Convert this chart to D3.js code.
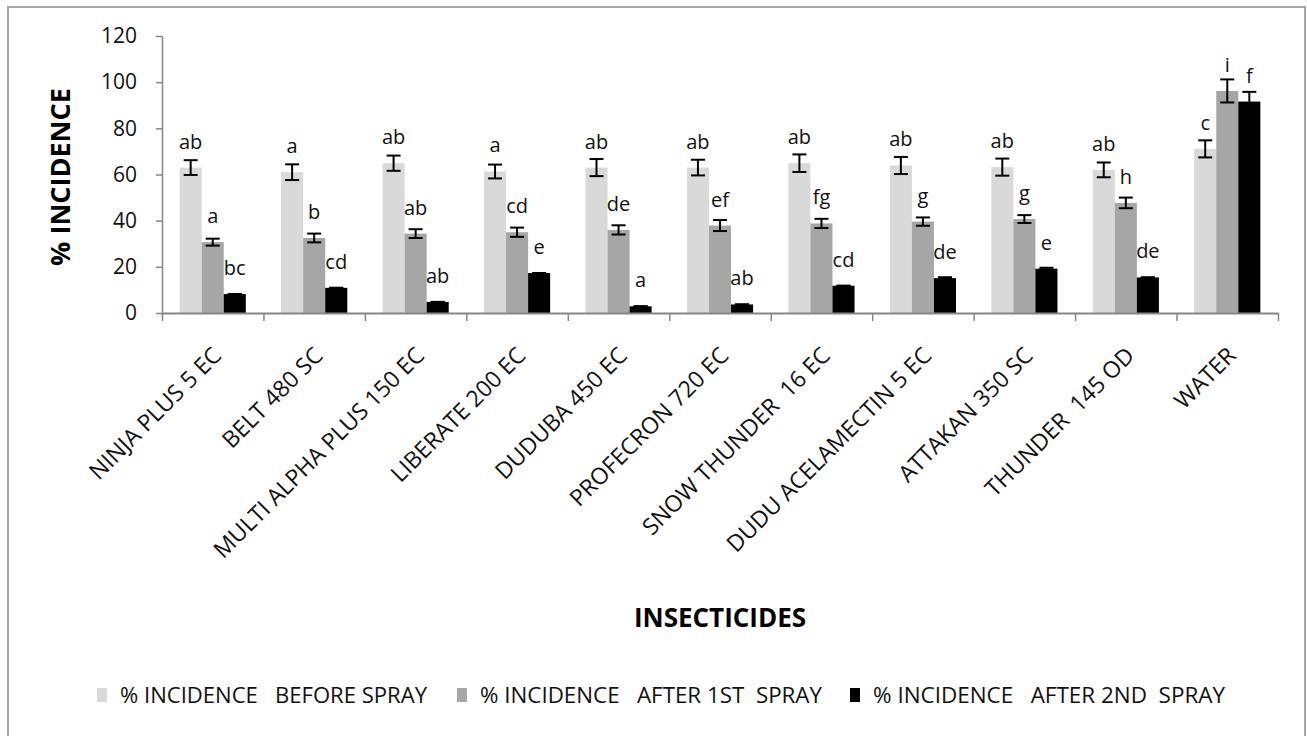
<!DOCTYPE html>
<html>
<head>
<meta charset="utf-8">
<script src="https://cdn.jsdelivr.net/npm/d3@7"></script>
<style>
  body { margin: 0; background: #fff; }
  svg text { font-family: "Open Sans", sans-serif; white-space: pre; }
</style>
</head>
<body>
<div id="chart"></div>
<script>
// data
var categories = ["NINJA PLUS 5 EC", "BELT 480 SC", "MULTI ALPHA PLUS 150 EC", "LIBERATE 200 EC",
  "DUDUBA 450 EC", "PROFECRON 720 EC", "SNOW THUNDER  16 EC", "DUDU ACELAMECTIN 5 EC",
  "ATTAKAN 350 SC", "THUNDER  145 OD", "WATER"];
var seriesNames = ["% INCIDENCE   BEFORE SPRAY", "% INCIDENCE   AFTER 1ST  SPRAY", "% INCIDENCE   AFTER 2ND  SPRAY"];

var beforeSpray = [63.0, 61.0, 64.9, 61.3, 63.0, 63.0, 64.9, 63.9, 63.2, 62.0, 71.1];
var beforeErr   = [3.2, 3.4, 3.3, 3.0, 3.7, 3.4, 3.8, 3.7, 3.7, 3.2, 3.7];
var after1st    = [30.7, 32.5, 34.4, 35.0, 36.0, 37.9, 38.8, 39.6, 40.7, 47.7, 96.2];
var after1Err   = [1.5, 1.9, 1.9, 2.0, 2.0, 2.4, 2.0, 1.8, 1.7, 2.3, 5.0];
var after2nd    = [8.2, 10.9, 4.8, 17.3, 2.9, 3.7, 11.8, 15.1, 19.2, 15.4, 91.6];
var after2Err   = [0, 0, 0, 0, 0, 0, 0, 0.4, 0.4, 0, 4.2];

var beforeLetters = ["ab", "a", "ab", "a", "ab", "ab", "ab", "ab", "ab", "ab", "c"];
var after1Letters = ["a", "b", "ab", "cd", "de", "ef", "fg", "g", "g", "h", "i"];
var after2Letters = ["bc", "cd", "ab", "e", "a", "ab", "cd", "de", "e", "de", "f"];

var yTicks = [0, 20, 40, 60, 80, 100, 120];

var colors = ["#d9d9d9", "#a6a6a6", "#000000"];
var axisColor = "#868686";

//chart parameters
var W = 1307, H = 736;
var margin = {top: 36, left: 162, right: 29, bottom: 423};
var width = W - margin.left - margin.right;
var height = H - margin.top - margin.bottom;

var svg = d3.select("#chart").append("svg")
  .attr("width", W)
  .attr("height", H);

// outer chart frame
svg.append("rect")
  .attr("x", 8).attr("y", 7)
  .attr("width", 1297).attr("height", 740)
  .attr("fill", "none")
  .attr("stroke", "#a6a6a6")
  .attr("stroke-width", 2);

var g = svg.append("g").attr("transform", "translate(" + margin.left + "," + margin.top + ")");

// build rows from the arrays
var series = [
  {name: seriesNames[0], values: beforeSpray, err: beforeErr, letters: beforeLetters},
  {name: seriesNames[1], values: after1st, err: after1Err, letters: after1Letters},
  {name: seriesNames[2], values: after2nd, err: after2Err, letters: after2Letters}
];
var rows = categories.map(function(c, i) {
  return {
    cat: c,
    groups: series.map(function(s, k) {
      return {k: k, value: s.values[i], err: s.err[i], letter: s.letters[i]};
    })
  };
});

//scales
var x0 = d3.scaleBand()
  .domain(categories)
  .range([0, width])
  .padding(0);

var x1 = d3.scaleBand()
  .domain([0, 1, 2])
  .range([0, x0.bandwidth()])
  .paddingInner(0)
  .paddingOuter(0.8);

var y = d3.scaleLinear()
  .domain([0, 120])
  .range([height, 0]);

// y axis
var yAxis = g.append("g")
  .call(d3.axisLeft(y).tickValues(yTicks).tickSize(6).tickSizeOuter(0).tickPadding(19));
yAxis.select(".domain").attr("stroke", axisColor).attr("stroke-width", 1.5);
yAxis.selectAll(".tick line").attr("stroke", axisColor).attr("stroke-width", 1.5);
yAxis.selectAll(".tick text")
  .attr("font-size", 21)
  .attr("fill", "#111")
  .attr("font-family", "Open Sans, sans-serif");

// bars
var grp = g.selectAll(".grp")
  .data(rows)
  .enter().append("g")
  .attr("transform", function(d) { return "translate(" + x0(d.cat) + ",0)"; });

grp.selectAll("rect")
  .data(function(d) { return d.groups; })
  .enter().append("rect")
  .attr("x", function(d) { return x1(d.k); })
  .attr("width", x1.bandwidth())
  .attr("y", function(d) { return y(d.value); })
  .attr("height", function(d) { return height - y(d.value); })
  .attr("fill", function(d) { return colors[d.k]; });

// error bars
var eb = grp.selectAll(".eb")
  .data(function(d) { return d.groups; })
  .enter().append("g")
  .attr("class", "eb")
  .attr("stroke", "#000")
  .attr("stroke-width", 2);
var cx = function(d) { return x1(d.k) + x1.bandwidth() / 2; };
eb.append("line")
  .attr("x1", cx).attr("x2", cx)
  .attr("y1", function(d) { return y(d.value - d.err); })
  .attr("y2", function(d) { return y(d.value + d.err); });
eb.append("line")
  .attr("x1", function(d) { return cx(d) - 7; })
  .attr("x2", function(d) { return cx(d) + 7; })
  .attr("y1", function(d) { return y(d.value + d.err); })
  .attr("y2", function(d) { return y(d.value + d.err); });
eb.append("line")
  .attr("x1", function(d) { return cx(d) - 7; })
  .attr("x2", function(d) { return cx(d) + 7; })
  .attr("y1", function(d) { return y(d.value - d.err); })
  .attr("y2", function(d) { return y(d.value - d.err); });

// letter labels
grp.selectAll(".lbl")
  .data(function(d) { return d.groups; })
  .enter().append("text")
  .attr("x", cx)
  .attr("y", function(d) { return y(d.value) - 19; })
  .attr("text-anchor", "middle")
  .attr("font-size", 20)
  .attr("fill", "#111")
  .text(function(d) { return d.letter; });

// x axis with ticks at category boundaries
var xb = d3.scaleLinear().domain([0, categories.length]).range([0, width]);
var xAxis = g.append("g")
  .attr("transform", "translate(0," + height + ")")
  .call(d3.axisBottom(xb).tickValues(d3.range(categories.length + 1)).tickSize(8).tickSizeOuter(0).tickFormat(""));
xAxis.select(".domain").attr("stroke", axisColor).attr("stroke-width", 2);
xAxis.selectAll(".tick line").attr("stroke", axisColor).attr("stroke-width", 1.5);

// rotated category labels
g.selectAll(".xlab")
  .data(categories)
  .enter().append("text")
  .attr("transform", function(d) {
    return "translate(" + (x0(d) + x0.bandwidth() / 2 + 10) + "," + (height + 44) + ") rotate(-45)";
  })
  .attr("text-anchor", "end")
  .attr("font-size", 23)
  .attr("fill", "#111")
  .text(function(d) { return d; });

// axis titles
svg.append("text")
  .attr("transform", "translate(70,177) rotate(-90)")
  .attr("text-anchor", "middle")
  .attr("font-size", 27)
  .attr("font-weight", "bold")
  .attr("fill", "#000")
  .text("% INCIDENCE");

svg.append("text")
  .attr("x", 720).attr("y", 627)
  .attr("text-anchor", "middle")
  .attr("font-size", 26)
  .attr("font-weight", "bold")
  .attr("fill", "#000")
  .text("INSECTICIDES");

// legend
var legX = [97, 457, 850];
var legTextW = [307, 342, 352];
var leg = svg.selectAll(".leg")
  .data(seriesNames)
  .enter().append("g")
  .attr("transform", function(d, i) { return "translate(" + legX[i] + ",688)"; });
leg.append("rect")
  .attr("width", 10).attr("height", 14)
  .attr("fill", function(d, i) { return colors[i]; });
leg.append("text")
  .attr("x", 23).attr("y", 15)
  .attr("font-size", 21)
  .attr("textLength", function(d, i) { return legTextW[i]; })
  .attr("lengthAdjust", "spacingAndGlyphs")
  .attr("fill", "#111")
  .text(function(d) { return d; });
</script>
</body>
</html>
